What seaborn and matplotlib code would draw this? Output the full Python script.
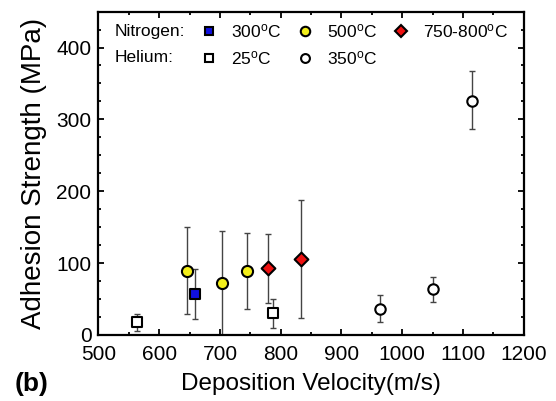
import matplotlib
matplotlib.use("Agg")
import matplotlib.pyplot as plt
from matplotlib.lines import Line2D
from matplotlib.ticker import MultipleLocator
import numpy as np
import pandas as pd
import seaborn as sns

# Deposition velocity (m/s), adhesion strength (MPa) and error bar limits
he25_vel = [563, 787]
he25_str = [18, 30]
he25_lo = [6, 9]
he25_hi = [29, 50]

n300_vel = [659]
n300_str = [57]
n300_lo = [22]
n300_hi = [91]

n500_vel = [646, 703, 745]
n500_str = [89, 72, 89]
n500_lo = [29, 0, 36]
n500_hi = [150, 144, 142]

n750_vel = [779, 833]
n750_str = [93, 106]
n750_lo = [44, 24]
n750_hi = [140, 188]

he350_vel = [964, 1050, 1115]
he350_str = [36, 64, 326]
he350_lo = [18, 46, 286]
he350_hi = [55, 81, 368]

x_ticks = [500, 600, 700, 800, 900, 1000, 1100, 1200]
y_ticks = [0, 100, 200, 300, 400]

sns.set_theme(style="ticks")
plt.rcParams["font.family"] = ["Liberation Sans", "DejaVu Sans"]
plt.rcParams["mathtext.default"] = "regular"
plt.rcParams["text.color"] = "black"
plt.rcParams["axes.labelcolor"] = "black"

fig = plt.figure(figsize=(5.56, 4.01), dpi=100)
ax = fig.add_axes([0.177, 0.165, 0.765, 0.806])

groups = [
    dict(v=he25_vel, s=he25_str, lo=he25_lo, hi=he25_hi, marker="s", fc="white", size=6.5, label="25$^{o}$C"),
    dict(v=n300_vel, s=n300_str, lo=n300_lo, hi=n300_hi, marker="s", fc="#1010e0", size=6.5, label="300$^{o}$C"),
    dict(v=n500_vel, s=n500_str, lo=n500_lo, hi=n500_hi, marker="o", fc="#f2ee1a", size=8, label="500$^{o}$C"),
    dict(v=n750_vel, s=n750_str, lo=n750_lo, hi=n750_hi, marker="D", fc="#ee1111", size=7, label="750-800$^{o}$C"),
    dict(v=he350_vel, s=he350_str, lo=he350_lo, hi=he350_hi, marker="o", fc="white", size=7.5, label="350$^{o}$C"),
]

handles = {}
for g in groups:
    v = np.array(g["v"], dtype=float)
    s = np.array(g["s"], dtype=float)
    yerr = np.vstack([s - np.array(g["lo"]), np.array(g["hi"]) - s])
    ax.errorbar(v, s, yerr=yerr, fmt="none", ecolor="#444444", elinewidth=1.0,
                capsize=2.5, capthick=1.0, zorder=2)
    df = pd.DataFrame({"vel": v, "str": s})
    sns.scatterplot(data=df, x="vel", y="str", ax=ax, marker=g["marker"],
                    s=g["size"] ** 2, color=g["fc"], edgecolor="black",
                    linewidth=1.5, zorder=3, legend=False)
    handles[g["label"]] = Line2D([], [], linestyle="none", marker=g["marker"],
                                 markerfacecolor=g["fc"], markeredgecolor="black",
                                 markeredgewidth=1.5, markersize=g["size"] * 0.85)

ax.set_xlim(500, 1200)
ax.set_ylim(0, 450)
ax.set_xticks(x_ticks)
ax.set_yticks(y_ticks)
ax.xaxis.set_minor_locator(MultipleLocator(50))
ax.yaxis.set_minor_locator(MultipleLocator(25))
ax.tick_params(which="both", direction="in", top=True, right=True, width=1.3,
               labelsize=15, colors="black")
ax.tick_params(axis="x", which="both", pad=7)
ax.tick_params(axis="y", which="both", pad=5)
ax.tick_params(which="major", length=4.5)
ax.tick_params(which="minor", length=2.5)
for sp in ax.spines.values():
    sp.set_linewidth(1.6)
    sp.set_color("black")

ax.set_xlabel("Deposition Velocity(m/s)", fontsize=17.5, labelpad=7)
ax.set_ylabel("Adhesion Strength (MPa)", fontsize=20, labelpad=7)
fig.text(0.027, 0.025, "(b)", fontsize=19, fontweight="bold")

# Legend: gas labels as text, temperature entries in a 3-column grid
ax.text(0.039, 0.938, "Nitrogen:", transform=ax.transAxes, fontsize=12.5, va="center")
ax.text(0.039, 0.858, "Helium:", transform=ax.transAxes, fontsize=12.5, va="center")
blank = Line2D([], [], linestyle="none")
order = ["300$^{o}$C", "25$^{o}$C", "500$^{o}$C", "350$^{o}$C", "750-800$^{o}$C", None]
leg_h = [handles[k] if k else blank for k in order]
leg_l = [k if k else "" for k in order]
ax.legend(leg_h, leg_l, ncol=3, loc="upper left", bbox_to_anchor=(0.215, 1.005),
          frameon=False, fontsize=12.5, handlelength=0.8, handletextpad=0.85,
          columnspacing=1.0, labelspacing=0.5, borderpad=0.2)

fig.savefig("out.png", dpi=100)
